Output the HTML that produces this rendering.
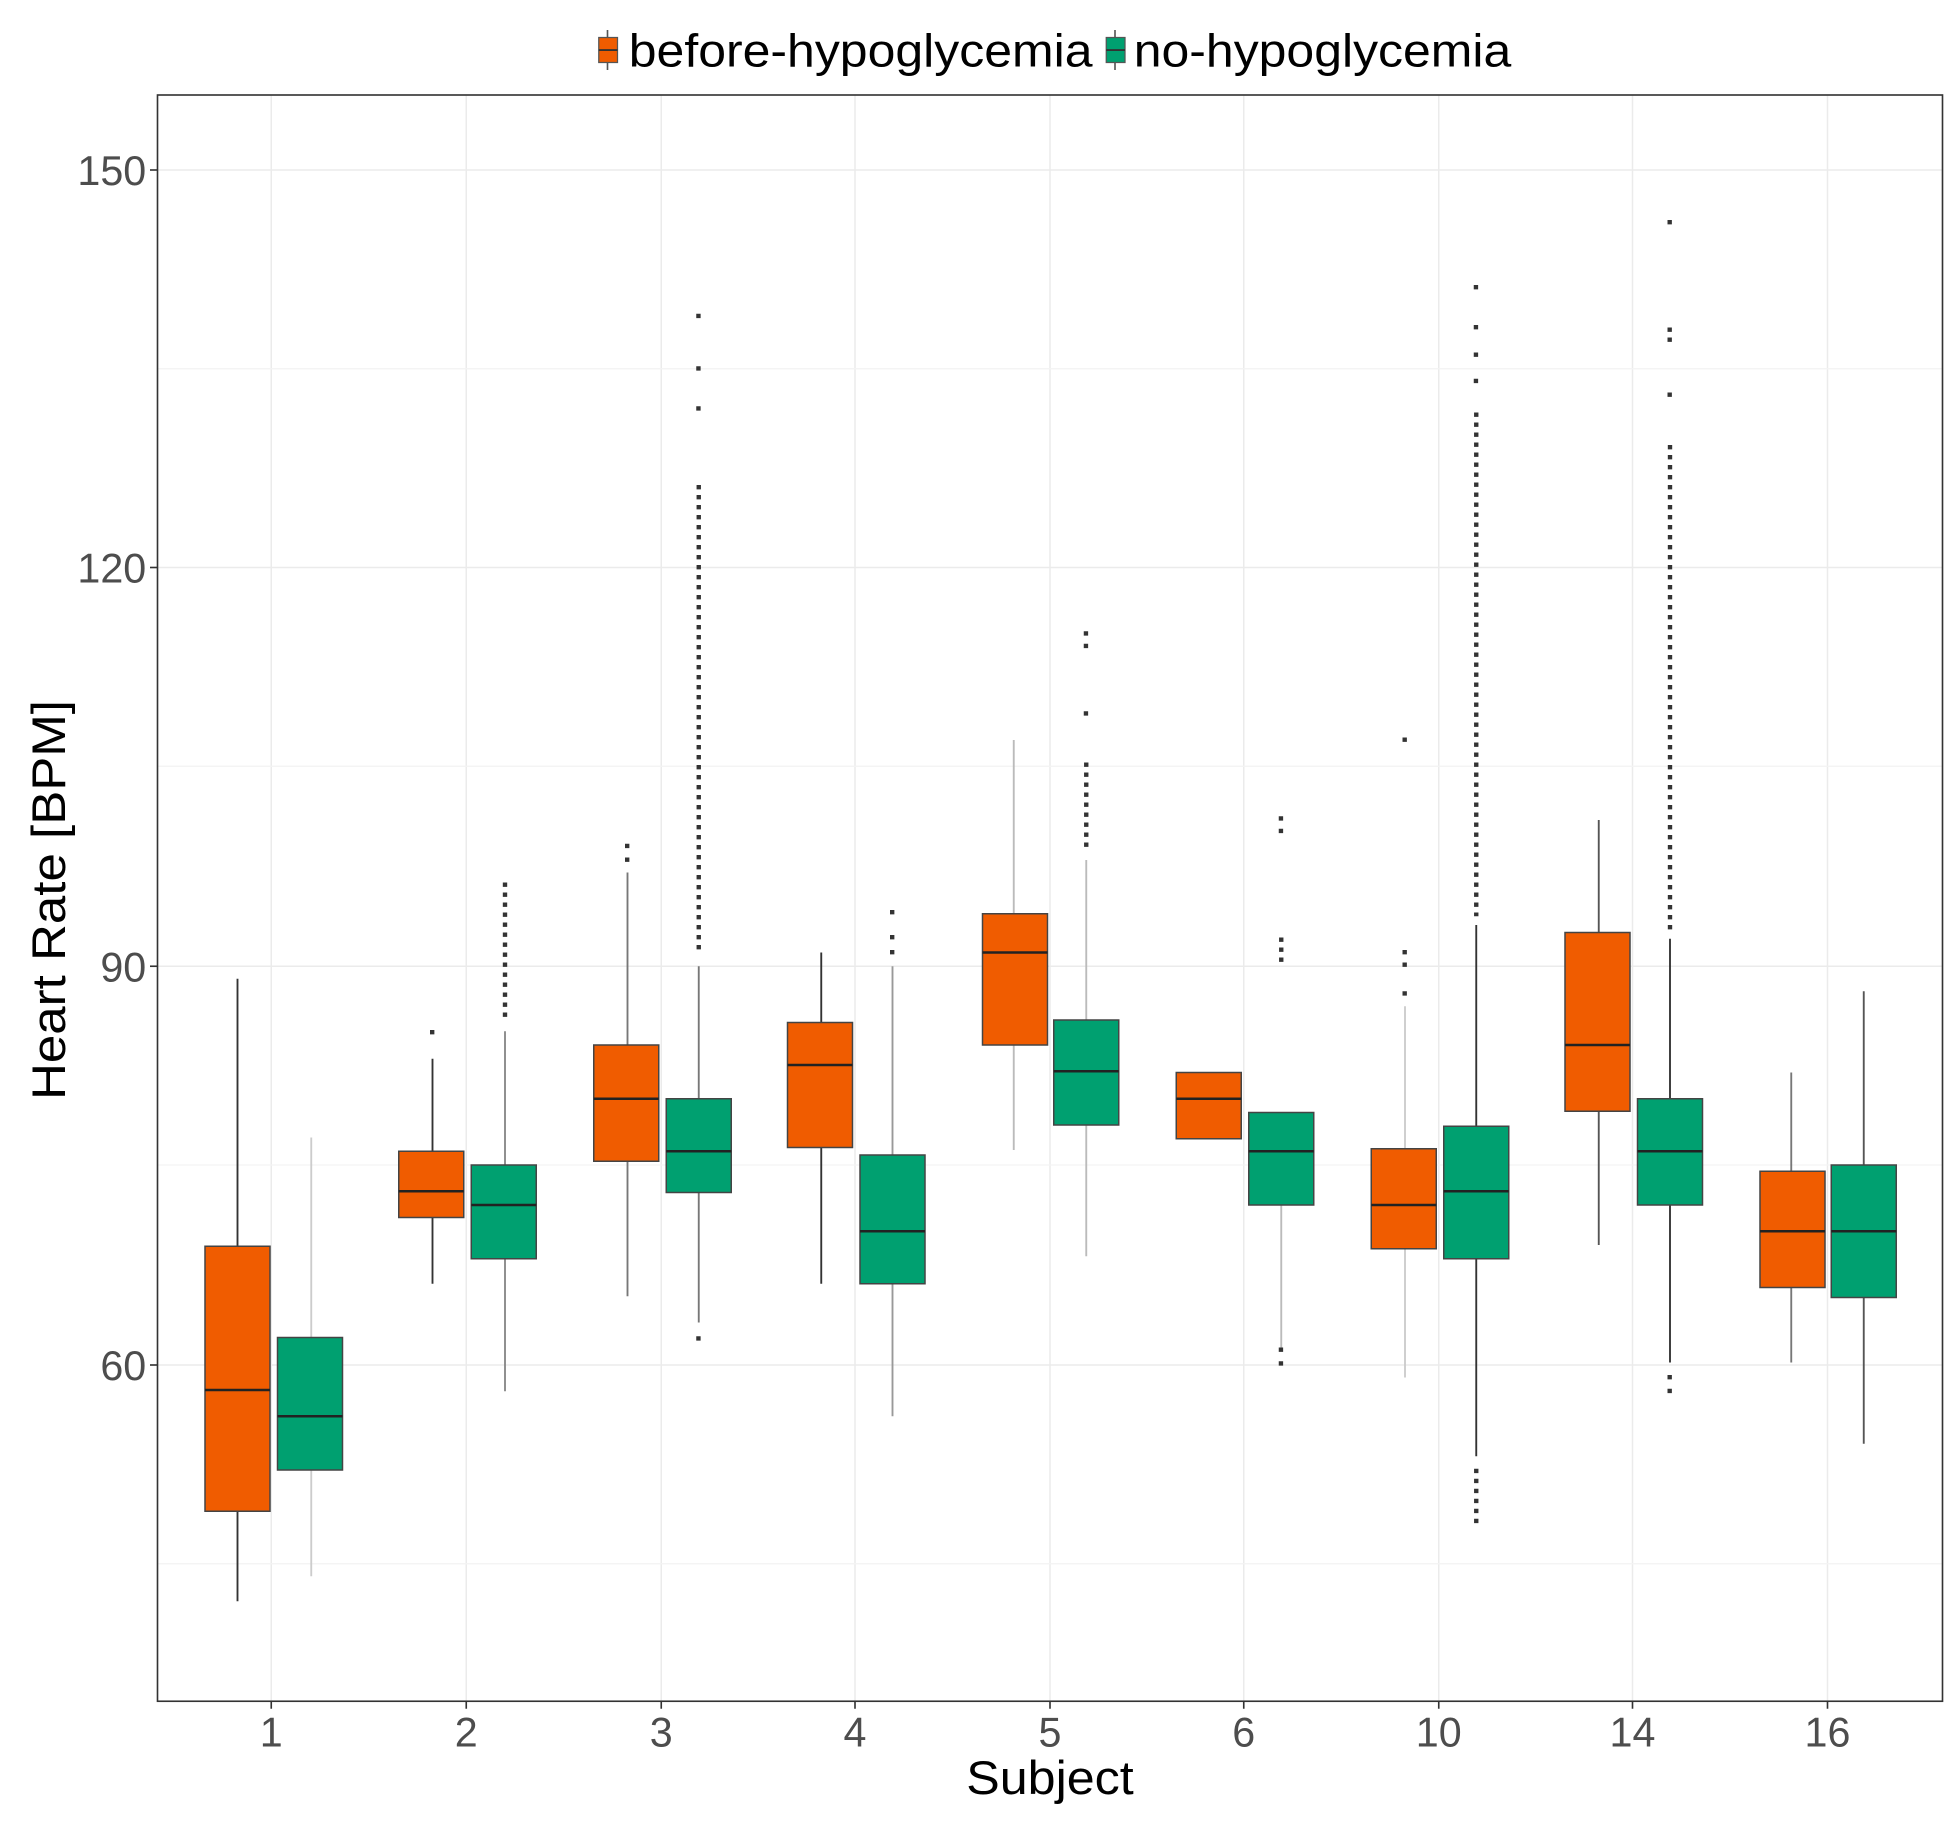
<!DOCTYPE html>
<html><head><meta charset="utf-8"><style>html,body{margin:0;padding:0;background:#fff}svg{display:block}</style></head>
<body>
<svg width="1960" height="1822" viewBox="0 0 1568 1457.6" preserveAspectRatio="none" xmlns="http://www.w3.org/2000/svg" font-family="Liberation Sans, Arial, sans-serif">
<rect width="1568" height="1458" fill="#fff"/>
<g stroke="#ebebeb" stroke-width="1.2">
<line x1="126" x2="1554" y1="136" y2="136"/><line x1="126" x2="1554" y1="454" y2="454"/><line x1="126" x2="1554" y1="773" y2="773"/><line x1="126" x2="1554" y1="1092" y2="1092"/>
<line x1="217" x2="217" y1="76" y2="1361"/><line x1="373" x2="373" y1="76" y2="1361"/><line x1="529" x2="529" y1="76" y2="1361"/><line x1="684" x2="684" y1="76" y2="1361"/><line x1="840" x2="840" y1="76" y2="1361"/><line x1="995" x2="995" y1="76" y2="1361"/><line x1="1151" x2="1151" y1="76" y2="1361"/><line x1="1306" x2="1306" y1="76" y2="1361"/><line x1="1462" x2="1462" y1="76" y2="1361"/>
</g>
<g stroke="#f3f3f3" stroke-width="1"><line x1="126" x2="1554" y1="295" y2="295"/><line x1="126" x2="1554" y1="613" y2="613"/><line x1="126" x2="1554" y1="932" y2="932"/><line x1="126" x2="1554" y1="1251" y2="1251"/></g>
<g stroke="#333" stroke-width="1.5">
<line x1="190" x2="190" y1="783" y2="1281"/>
<line x1="346" x2="346" y1="847" y2="1027"/><line x1="404" x2="404" y1="825" y2="1113" stroke="#888"/>
<line x1="502" x2="502" y1="698" y2="1037" stroke="#777"/><line x1="559" x2="559" y1="773" y2="1058" stroke="#777"/>
<line x1="657" x2="657" y1="762" y2="1027"/><line x1="714" x2="714" y1="773" y2="1133" stroke="#999"/>
<line x1="811" x2="811" y1="592" y2="920" stroke="#bbb"/><line x1="869" x2="869" y1="688" y2="1005" stroke="#bbb"/>
<line x1="1025" x2="1025" y1="964" y2="1080" stroke="#bbb"/>
<line x1="1124" x2="1124" y1="805" y2="1102" stroke="#ccc"/><line x1="1181" x2="1181" y1="740" y2="1165"/>
<line x1="1279" x2="1279" y1="656" y2="996" stroke="#555"/><line x1="1336" x2="1336" y1="751" y2="1090"/>
<line x1="1433" x2="1433" y1="858" y2="1090" stroke="#777"/><line x1="1491" x2="1491" y1="793" y2="1155" stroke="#555"/>
<line x1="249" x2="249" y1="910" y2="1261" stroke="#ccc"/>
</g>
<g stroke="#444" stroke-width="1.2">
<rect x="164" y="997" width="52" height="212" fill="#f05c00"/>
<rect x="222" y="1070" width="52" height="106" fill="#00a070"/>
<rect x="319" y="921" width="52" height="53" fill="#f05c00"/>
<rect x="377" y="932" width="52" height="75" fill="#00a070"/>
<rect x="475" y="836" width="52" height="93" fill="#f05c00"/>
<rect x="533" y="879" width="52" height="75" fill="#00a070"/>
<rect x="630" y="818" width="52" height="100" fill="#f05c00"/>
<rect x="688" y="924" width="52" height="103" fill="#00a070"/>
<rect x="786" y="731" width="52" height="105" fill="#f05c00"/>
<rect x="843" y="816" width="52" height="84" fill="#00a070"/>
<rect x="941" y="858" width="52" height="53" fill="#f05c00"/>
<rect x="999" y="890" width="52" height="74" fill="#00a070"/>
<rect x="1097" y="919" width="52" height="80" fill="#f05c00"/>
<rect x="1155" y="901" width="52" height="106" fill="#00a070"/>
<rect x="1252" y="746" width="52" height="143" fill="#f05c00"/>
<rect x="1310" y="879" width="52" height="85" fill="#00a070"/>
<rect x="1408" y="937" width="52" height="93" fill="#f05c00"/>
<rect x="1465" y="932" width="52" height="106" fill="#00a070"/>
</g>
<g stroke="#222" stroke-width="2">
<line x1="164" x2="216" y1="1112" y2="1112"/><line x1="222" x2="274" y1="1133" y2="1133"/>
<line x1="319" x2="371" y1="953" y2="953"/><line x1="377" x2="429" y1="964" y2="964"/>
<line x1="475" x2="527" y1="879" y2="879"/><line x1="533" x2="585" y1="921" y2="921"/>
<line x1="630" x2="682" y1="852" y2="852"/><line x1="688" x2="740" y1="985" y2="985"/>
<line x1="786" x2="838" y1="762" y2="762"/><line x1="843" x2="895" y1="857" y2="857"/>
<line x1="941" x2="993" y1="879" y2="879"/><line x1="999" x2="1051" y1="921" y2="921"/>
<line x1="1097" x2="1149" y1="964" y2="964"/><line x1="1155" x2="1207" y1="953" y2="953"/>
<line x1="1252" x2="1304" y1="836" y2="836"/><line x1="1310" x2="1362" y1="921" y2="921"/>
<line x1="1408" x2="1460" y1="985" y2="985"/><line x1="1465" x2="1517" y1="985" y2="985"/>
</g>
<g stroke="#333" stroke-width="3.5" stroke-dasharray="3.5 4.5">
<line x1="404" x2="404" y1="706" y2="818"/>
<line x1="559" x2="559" y1="388" y2="762"/>
<line x1="869" x2="869" y1="610" y2="680"/>
<line x1="1181" x2="1181" y1="330" y2="733"/>
<line x1="1181" x2="1181" y1="1175" y2="1222"/>
<line x1="1336" x2="1336" y1="356" y2="744"/>
<line x1="1025" x2="1025" y1="750" y2="774"/>
</g>
<g fill="#333">
<rect x="344" y="824" width="3.5" height="3.5"/>
<rect x="500" y="675" width="3.5" height="3.5"/><rect x="500" y="686" width="3.5" height="3.5"/>
<rect x="557" y="251" width="3.5" height="3.5"/><rect x="557" y="293" width="3.5" height="3.5"/><rect x="557" y="325" width="3.5" height="3.5"/><rect x="557" y="1069" width="3.5" height="3.5"/>
<rect x="712" y="728" width="3.5" height="3.5"/><rect x="712" y="748" width="3.5" height="3.5"/><rect x="712" y="760" width="3.5" height="3.5"/>
<rect x="867" y="505" width="3.5" height="3.5"/><rect x="867" y="515" width="3.5" height="3.5"/><rect x="867" y="569" width="3.5" height="3.5"/>
<rect x="1023" y="653" width="3.5" height="3.5"/><rect x="1023" y="663" width="3.5" height="3.5"/><rect x="1023" y="1078" width="3.5" height="3.5"/><rect x="1023" y="1089" width="3.5" height="3.5"/>
<rect x="1122" y="590" width="3.5" height="3.5"/><rect x="1122" y="760" width="3.5" height="3.5"/><rect x="1122" y="770" width="3.5" height="3.5"/><rect x="1122" y="793" width="3.5" height="3.5"/>
<rect x="1179" y="228" width="3.5" height="3.5"/><rect x="1179" y="260" width="3.5" height="3.5"/><rect x="1179" y="282" width="3.5" height="3.5"/><rect x="1179" y="303" width="3.5" height="3.5"/>
<rect x="1334" y="176" width="3.5" height="3.5"/><rect x="1334" y="262" width="3.5" height="3.5"/><rect x="1334" y="270" width="3.5" height="3.5"/><rect x="1334" y="314" width="3.5" height="3.5"/><rect x="1334" y="1100" width="3.5" height="3.5"/><rect x="1334" y="1111" width="3.5" height="3.5"/>
</g>
<rect x="126" y="76" width="1428" height="1285" fill="none" stroke="#333" stroke-width="1.3"/>
<g stroke="#333" stroke-width="1.3"><line x1="120" x2="126" y1="136" y2="136"/><line x1="120" x2="126" y1="454" y2="454"/><line x1="120" x2="126" y1="773" y2="773"/><line x1="120" x2="126" y1="1092" y2="1092"/>
<line x1="217" x2="217" y1="1361" y2="1367"/><line x1="373" x2="373" y1="1361" y2="1367"/><line x1="529" x2="529" y1="1361" y2="1367"/><line x1="684" x2="684" y1="1361" y2="1367"/><line x1="840" x2="840" y1="1361" y2="1367"/><line x1="995" x2="995" y1="1361" y2="1367"/><line x1="1151" x2="1151" y1="1361" y2="1367"/><line x1="1306" x2="1306" y1="1361" y2="1367"/><line x1="1462" x2="1462" y1="1361" y2="1367"/></g>
<g fill="#4d4d4d" font-size="33" text-anchor="end"><text x="117" y="148">150</text><text x="117" y="466">120</text><text x="117" y="785">90</text><text x="117" y="1104">60</text></g>
<g fill="#4d4d4d" font-size="33" text-anchor="middle"><text x="217" y="1397">1</text><text x="373" y="1397">2</text><text x="529" y="1397">3</text><text x="684" y="1397">4</text><text x="840" y="1397">5</text><text x="995" y="1397">6</text><text x="1151" y="1397">10</text><text x="1306" y="1397">14</text><text x="1462" y="1397">16</text></g>
<text x="773" y="1435" font-size="38" fill="#000" textLength="134" lengthAdjust="spacingAndGlyphs">Subject</text>
<text transform="translate(52,880) rotate(-90)" font-size="38" fill="#000" textLength="320" lengthAdjust="spacingAndGlyphs">Heart Rate [BPM]</text>
<g stroke="#555" stroke-width="1.3"><line x1="486" x2="486" y1="24" y2="56"/><line x1="892" x2="892" y1="24" y2="56"/></g>
<rect x="479" y="30" width="15" height="20" fill="#f05c00" stroke="#555" stroke-width="1"/>
<rect x="885" y="30" width="15" height="20" fill="#00a070" stroke="#555" stroke-width="1"/>
<line x1="479" x2="494" y1="40" y2="40" stroke="#333" stroke-width="1.5"/><line x1="885" x2="900" y1="40" y2="40" stroke="#333" stroke-width="1.5"/>
<g font-size="37" fill="#000"><text x="503" y="53" textLength="371" lengthAdjust="spacingAndGlyphs">before-hypoglycemia</text><text x="907" y="53" textLength="302" lengthAdjust="spacingAndGlyphs">no-hypoglycemia</text></g>
</svg>
</body></html>
